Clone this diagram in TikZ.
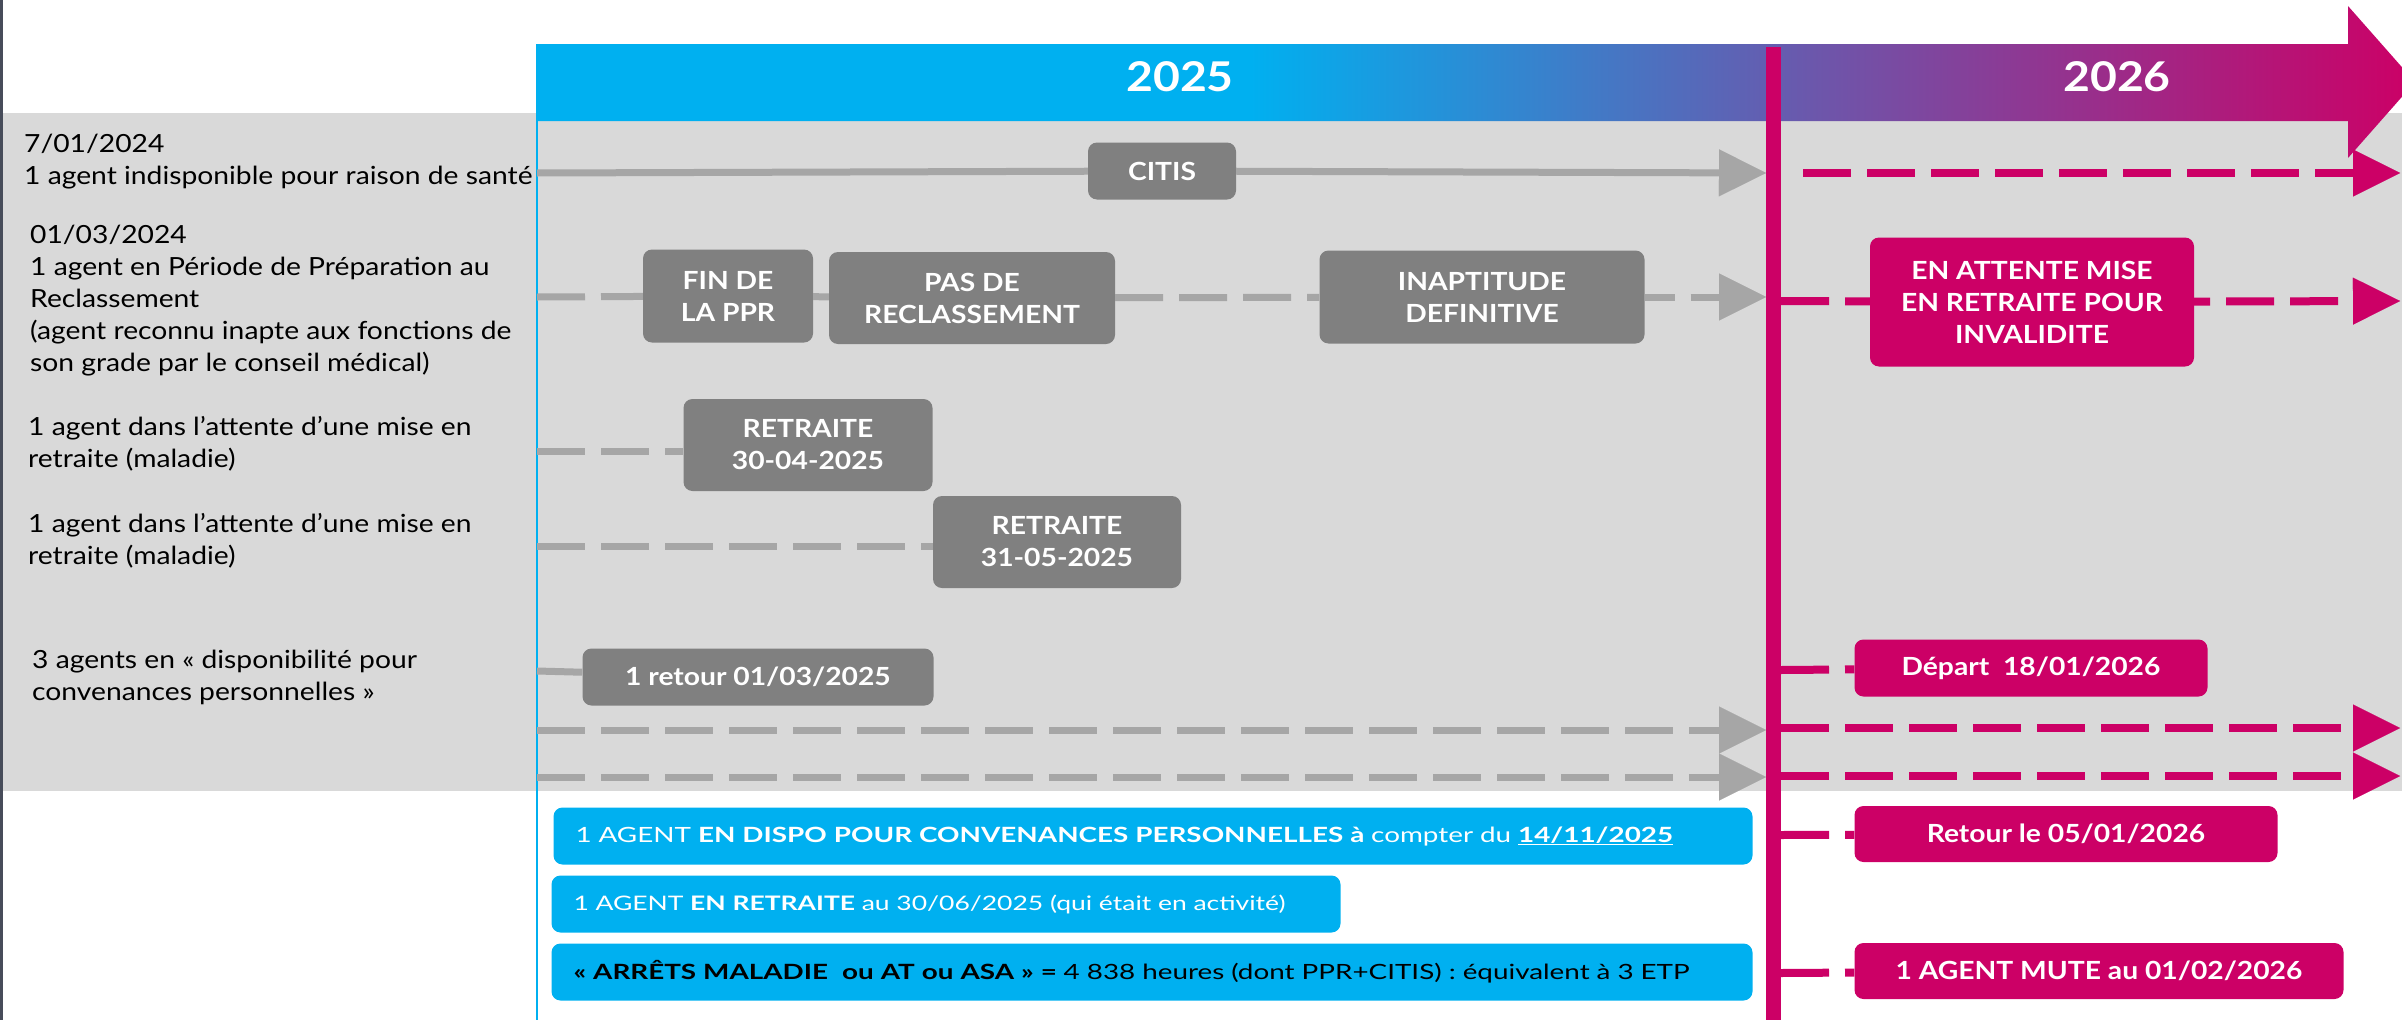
\documentclass[tikz,border=0pt]{standalone}
\usepackage{fontspec}
\setmainfont{Lato}[FakeStretch=1.13]
\newfontfamily\widefont{Lato}[FakeStretch=1.325]
\usetikzlibrary{arrows.meta}

\definecolor{bandgrey}{HTML}{D9D9D9}
\definecolor{boxgrey}{HTML}{808080}
\definecolor{linegrey}{HTML}{A6A6A6}
\definecolor{timepink}{RGB}{204,0,102}
\definecolor{barcyan}{HTML}{00B0F0}
\definecolor{barpurple}{RGB}{110,85,170}
\definecolor{edgeslate}{HTML}{474C5A}

\pgfdeclarehorizontalshading{yearbar}{100bp}{color(0bp)=(barcyan); color(44bp)=(barcyan); color(59.3bp)=(barpurple); color(75bp)=(timepink); color(100bp)=(timepink)}

\tikzset{
  rowlabel/.style={anchor=west, align=left, inner sep=0pt, font=\fontsize{25}{32}\selectfont},
  greybox/.style={fill=boxgrey, rounded corners=9pt, text=white, align=center, inner sep=0pt, font=\bfseries\fontsize{25}{32}\selectfont},
  pinkbox/.style={greybox, fill=timepink},
  bluebox/.style={fill=barcyan, rounded corners=9pt, text=white, align=left, inner xsep=22pt, inner ysep=0pt, minimum height=57pt, font=\widefont\fontsize{21}{26}\selectfont},
  year/.style={text=white, font=\bfseries\fontsize{41}{41}\selectfont},
  greyline/.style={draw=linegrey, line width=7pt},
  greydash/.style={greyline, dash pattern=on 48pt off 16pt},
  pinkdash/.style={draw=timepink, line width=8pt, dash pattern=on 48pt off 16pt},
  arr/.style={-{Triangle[length=47pt, width=47pt, line width=0.01pt]}}
}

\begin{document}
\begin{tikzpicture}[x=1pt, y=-1pt]
\useasboundingbox (0,0) rectangle (2402,1020);

% background and header
\fill[bandgrey] (0,113) rectangle (2402,791);
\fill[edgeslate] (0,0) rectangle (3,1020);
\shade[shading=yearbar] (536,44) -- (2348,44) -- (2348,6) -- (2415,82) -- (2348,158) -- (2348,121) -- (536,121) -- cycle;
\node[year] (y25) at (1180,77) {2025};
\node[year] (y26) at (2117,77) {2026};
\draw[barcyan, line width=1.5pt] (537,121) -- (537,1020);

% left labels
\node[rowlabel] (lab1) at (24,162) {7/01/2024\\1 agent indisponible pour raison de santé};
\node[rowlabel] (lab2) at (30,301) {01/03/2024\\1 agent en Période de Préparation au\\Reclassement\\(agent reconnu inapte aux fonctions de\\son grade par le conseil médical)};
\node[rowlabel] (lab3) at (28,444) {1 agent dans l’attente d’une mise en\\retraite (maladie)};
\node[rowlabel] (lab4) at (28,541) {1 agent dans l’attente d’une mise en\\retraite (maladie)};
\node[rowlabel] (lab5) at (32,677) {3 agents en « disponibilité pour\\convenances personnelles »};

% 2025 events
\node[greybox, minimum width=148pt, minimum height=57pt] (citis) at (1162,171) {CITIS};
\node[greybox, minimum width=170pt, minimum height=93pt] (fin) at (728,296) {FIN DE\\LA PPR};
\node[greybox, minimum width=286pt, minimum height=92pt] (pas) at (972,298) {PAS DE\\RECLASSEMENT};
\node[greybox, minimum width=325pt, minimum height=93pt] (inapt) at (1482,297) {INAPTITUDE\\DEFINITIVE};
\node[greybox, minimum width=249pt, minimum height=92pt] (ret1) at (808,445) {RETRAITE\\30-04-2025};
\node[greybox, minimum width=248pt, minimum height=92pt] (ret2) at (1057,542) {RETRAITE\\31-05-2025};
\node[greybox, minimum width=351pt, minimum height=57pt] (retour) at (758,677) {1 retour 01/03/2025};

\coordinate (g1s) at (537,173);
\coordinate (g1e) at (1766,173);
\coordinate (g2s) at (537,297);
\coordinate (g2e) at (1766,297);
\coordinate (g3s) at (537,451);
\coordinate (g4s) at (537,546);
\coordinate (g5s) at (537,671);
\coordinate (g6s) at (537,730);
\coordinate (g6e) at (1766,730);
\coordinate (g7s) at (537,777);
\coordinate (g7e) at (1766,777);

\draw[greyline] (g1s) -- (citis);
\draw[greyline, arr] (citis) -- (g1e);
\draw[greydash] (g2s) -- (fin);
\draw[greyline] (fin) -- (pas);
\draw[greydash] (pas) -- (inapt);
\draw[greydash, dash phase=18pt, arr] (inapt) -- (g2e);
\draw[greydash] (g3s) -- (g3s -| ret1.west);
\draw[greydash] (g4s) -- (g4s -| ret2.west);
\draw[greyline] (g5s) -- (retour);
\draw[greydash, arr] (g6s) -- (g6e);
\draw[greydash, arr] (g7s) -- (g7e);

% 2025 summary
\node[bluebox, text width=1155pt] (dispo) at (1153,836) {1 AGENT \textbf{EN DISPO POUR CONVENANCES PERSONNELLES à} compter du \textbf{\underline{14/11/2025}}};
\node[bluebox, text width=745pt, font=\widefont\fontsize{20}{26}\selectfont] (retr) at (946,904) {1 AGENT \textbf{EN RETRAITE} au 30/06/2025 (qui était en activité)};
\node[bluebox, text width=1157pt, text=black] (arrets) at (1152,972) {\textbf{« ARRÊTS MALADIE\ \ ou AT ou ASA » =} 4 838 heures (dont PPR+CITIS) : équivalent à 3 ETP};

% end of 2025
\coordinate (ntop) at (1773.5,47);
\coordinate (nbot) at (1773.5,1020);
\draw[timepink, line width=15pt] (ntop) -- (nbot);

% 2026 events
\node[pinkbox, minimum width=324pt, minimum height=129pt] (attente) at (2032,302) {EN ATTENTE MISE\\EN RETRAITE POUR\\INVALIDITE};
\node[pinkbox, minimum width=353pt, minimum height=57pt] (depart) at (2031,668) {Départ\ \ 18/01/2026};
\node[pinkbox, minimum width=423pt, minimum height=56pt] (retle) at (2066,834) {Retour le 05/01/2026};
\node[pinkbox, minimum width=489pt, minimum height=56pt] (mute) at (2099,971) {1 AGENT MUTE au 01/02/2026};

\coordinate (p1s) at (1803,173);
\coordinate (p1e) at (2400,173);
\coordinate (p2s) at (1781,301);
\coordinate (p2e) at (2400,301);
\coordinate (p5s) at (1781,670);
\coordinate (p6s) at (1781,728);
\coordinate (p6e) at (2400,728);
\coordinate (p7s) at (1781,776);
\coordinate (p7e) at (2400,776);
\coordinate (p8s) at (1781,835);
\coordinate (p9s) at (1781,973);

\draw[pinkdash, arr] (p1s) -- (p1e);
\draw[pinkdash] (p2s) -- (attente);
\draw[pinkdash, dash phase=32pt, arr] (attente) -- (p2e);
\draw[pinkdash] (p5s) -- (depart);
\draw[pinkdash, arr] (p6s) -- (p6e);
\draw[pinkdash, arr] (p7s) -- (p7e);
\draw[pinkdash] (p8s) -- (retle);
\draw[pinkdash] (p9s) -- (mute);

\end{tikzpicture}
\end{document}
